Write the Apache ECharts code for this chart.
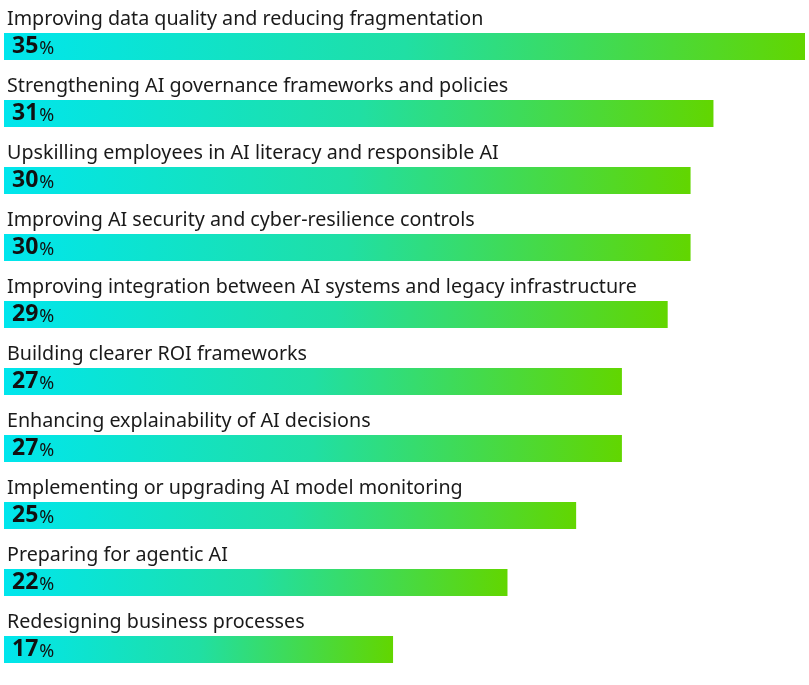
<!DOCTYPE html>
<html>
<head>
<meta charset="utf-8">
<script src="https://cdn.jsdelivr.net/npm/echarts@6/dist/echarts.min.js"></script>
<style>
  html, body { margin: 0; padding: 0; background: #fff; }
  #chart { width: 809px; height: 685px; }
</style>
</head>
<body>
<div id="chart"></div>
<script>
  // categories, top to bottom
  var categories = [
    'Improving data quality and reducing fragmentation',
    'Strengthening AI governance frameworks and policies',
    'Upskilling employees in AI literacy and responsible AI',
    'Improving AI security and cyber-resilience controls',
    'Improving integration between AI systems and legacy infrastructure',
    'Building clearer ROI frameworks',
    'Enhancing explainability of AI decisions',
    'Implementing or upgrading AI model monitoring',
    'Preparing for agentic AI',
    'Redesigning business processes'
  ]
  var values = [35, 31, 30, 30, 29, 27, 27, 25, 22, 17]

  var chart = echarts.init(document.getElementById('chart'))
  var option = {
    animation: false,
    textStyle: { fontFamily: 'Noto Sans' },
    grid: { left: 4, right: 4, top: 13, bottom: 2 },
    xAxis: {
      type: 'value', min: 0, max: 35, show: false
    },
    yAxis: {
      type: 'category', data: categories, inverse: true, show: false
    },
    series: [
      {
        type: 'bar',
        data: values,
        barWidth: 27,
        itemStyle: {
          color: {
            type: 'linear', x: 0, y: 0, x2: 1, y2: 0,
            colorStops: [
              { offset: 0, color: '#00e6ed' },
              { offset: 0.5, color: '#20dfa4' },
              { offset: 1, color: '#62d600' }
            ]
          }
        },
        label: {
          show: true,
          position: 'insideLeft',
          distance: 8,
          formatter: function (p) { return '{v|' + p.value + '}{p|%}' },
          rich: {
            v: { fontFamily: 'Noto Sans', fontSize: 23, fontWeight: 'bold', color: '#111' },
            p: { fontFamily: 'Noto Sans', fontSize: 18, color: '#111', padding: [4, 0, 0, 1] }
          }
        }
      },
      {
        // category names above each bar
        type: 'bar',
        data: values,
        barWidth: 27,
        barGap: '-100%',
        silent: true,
        itemStyle: { color: 'transparent' },
        label: {
          show: true,
          position: [3, -14],
          verticalAlign: 'middle',
          align: 'left',
          formatter: '{b}',
          fontFamily: 'Noto Sans',
          fontSize: 19.7,
          color: '#1a1a1a'
        }
      }
    ]
  }
  chart.setOption(option)
</script>
</body>
</html>
